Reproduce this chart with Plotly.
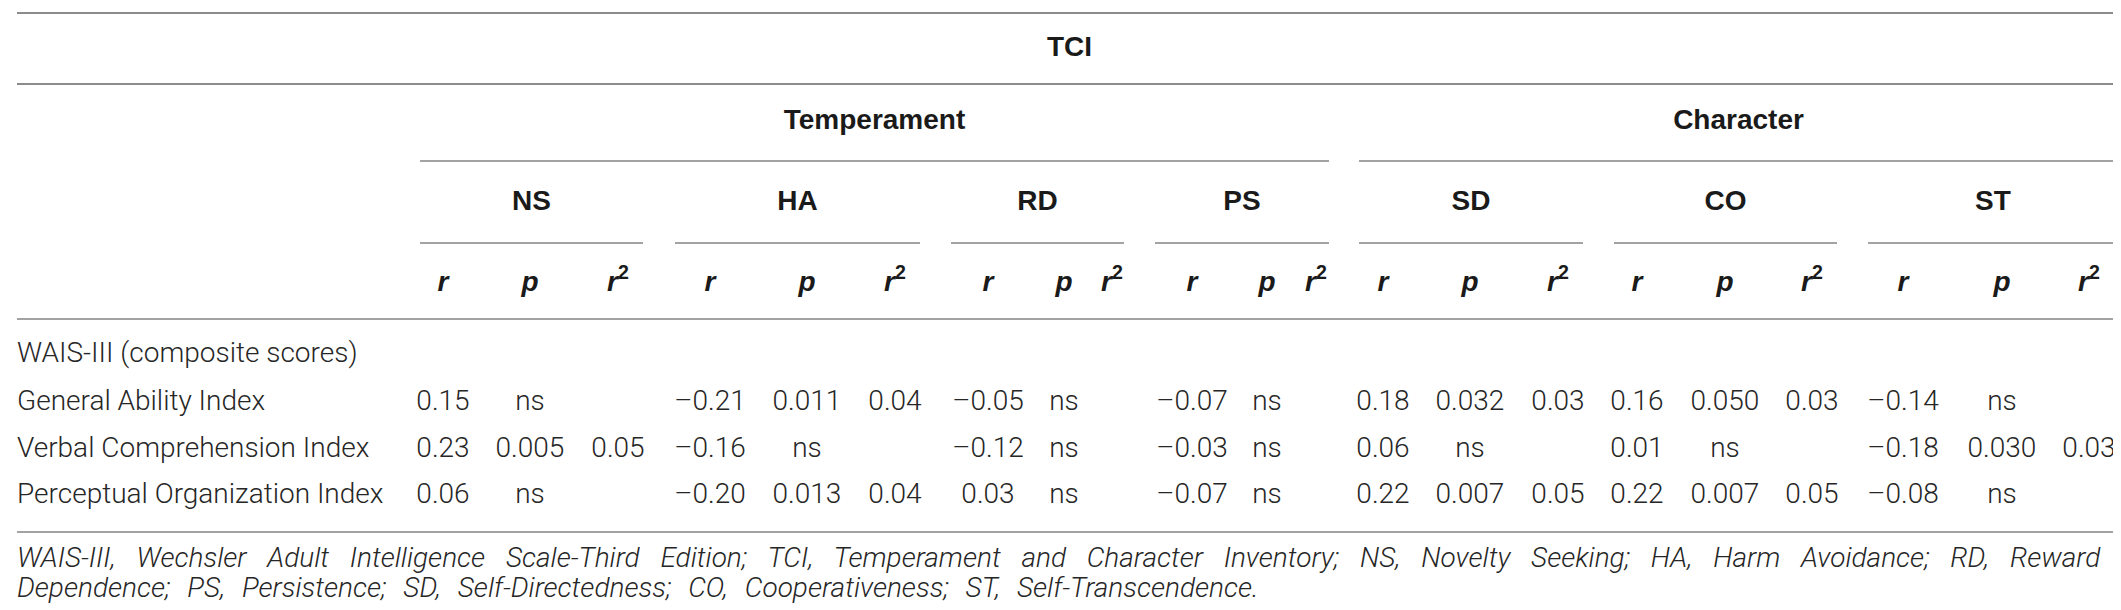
import plotly.graph_objects as go

# table content
scales = ["NS", "HA", "RD", "PS", "SD", "CO", "ST"]
groups = ["Temperament", "Character"]
stats = ["r", "p", "r2"]
row_labels = ["General Ability Index", "Verbal Comprehension Index", "Perceptual Organization Index"]
section_label = "WAIS-III (composite scores)"

r_gai = [0.15, -0.21, -0.05, -0.07, 0.18, 0.16, -0.14]
r_vci = [0.23, -0.16, -0.12, -0.03, 0.06, 0.01, -0.18]
r_poi = [0.06, -0.20, 0.03, -0.07, 0.22, 0.22, -0.08]
p_gai = ["ns", "0.011", "ns", "ns", "0.032", "0.050", "ns"]
p_vci = ["0.005", "ns", "ns", "ns", "ns", "ns", "0.030"]
p_poi = ["ns", "0.013", "ns", "ns", "0.007", "0.007", "ns"]
r2_gai = [None, 0.04, None, None, 0.03, 0.03, None]
r2_vci = [0.05, None, None, None, None, None, 0.03]
r2_poi = [None, 0.04, None, None, 0.05, 0.05, None]

footnote1 = ("WAIS-III, Wechsler Adult Intelligence Scale-Third Edition; TCI, Temperament and "
             "Character Inventory; NS, Novelty Seeking; HA, Harm Avoidance; RD, Reward")
footnote2 = ("Dependence; PS, Persistence; SD, Self-Directedness; CO, Cooperativeness; "
             "ST, Self-Transcendence.")

# layout geometry (pixels)
W, H = 2121, 610
left, right = 9, 2114
col_r = [435, 702, 980, 1184, 1375, 1629, 1895]
col_p = [522, 799, 1056, 1259, 1462, 1717, 1994]
col_r2 = [610, 887, 1104, 1308, 1550, 1804, 2081]
span_x0 = [412, 667, 943, 1147, 1351, 1606, 1860]
span_x1 = [635, 912, 1116, 1321, 1575, 1829, 2110]
group_x0 = [412, 1351]
group_x1 = [1321, 2110]
y_rule = [5, 76, 311, 524]
y_group_rule = 153
y_span_rule = 235
y_tci, y_group, y_scale, y_stat = 41, 114, 195, 276
y_section = 347
y_rows = [395, 442, 488]
y_foot = [552, 582]

body = dict(family="Roboto", size=28, color="#262626", weight=300)
bold = dict(family="Liberation Sans", size=28, color="#1a1a1a", weight="bold")
bold_it = dict(family="Liberation Sans", size=28, color="#1a1a1a", weight="bold", style="italic")
foot_font = dict(family="Roboto", size=28, color="#262626", weight=300, style="italic")
rule_dark = "#8c8c8c"
rule_light = "#a3a3a3"


def fmt(v):
    s = "%.2f" % abs(v)
    return ("\u2013" + s) if v < 0 else s


def cells(xs, vals, y, as_num):
    keep = [(x, v) for x, v in zip(xs, vals) if v is not None]
    return go.Scatter(x=[k[0] for k in keep], y=[y] * len(keep), mode="text",
                      text=[fmt(k[1]) if as_num else k[1] for k in keep],
                      textposition="middle center", textfont=body, hoverinfo="skip")


fig = go.Figure()

rows_r = [r_gai, r_vci, r_poi]
rows_p = [p_gai, p_vci, p_poi]
rows_r2 = [r2_gai, r2_vci, r2_poi]
for i, y in enumerate(y_rows):
    fig.add_trace(cells(col_r, rows_r[i], y, True))
    fig.add_trace(cells(col_p, rows_p[i], y, False))
    fig.add_trace(cells(col_r2, rows_r2[i], y, True))

fig.add_trace(go.Scatter(x=[left] * 4, y=[y_section] + y_rows, mode="text",
                         text=[section_label] + row_labels,
                         textposition="middle right", textfont=body, hoverinfo="skip"))

# header texts
stat_text = {"r": "r", "p": "p",
             "r2": 'r<sup><span style="font-style:normal">2</span></sup>'}
fig.add_trace(go.Scatter(x=[(left + right) / 2], y=[y_tci], mode="text", text=["TCI"],
                         textposition="middle center", textfont=bold, hoverinfo="skip"))
fig.add_trace(go.Scatter(x=[(a + b) / 2 for a, b in zip(group_x0, group_x1)], y=[y_group] * 2,
                         mode="text", text=groups,
                         textposition="middle center", textfont=bold, hoverinfo="skip"))
fig.add_trace(go.Scatter(x=[(a + b) / 2 for a, b in zip(span_x0, span_x1)], y=[y_scale] * 7,
                         mode="text", text=scales,
                         textposition="middle center", textfont=bold, hoverinfo="skip"))
for key, xs in zip(stats, [col_r, col_p, col_r2]):
    fig.add_trace(go.Scatter(x=xs, y=[y_stat] * 7, mode="text", text=[stat_text[key]] * 7,
                             textposition="middle center", textfont=bold_it, hoverinfo="skip"))

# footnote, first line stretched to the table width like justified text
fig.add_trace(go.Scatter(x=[left], y=[y_foot[0]], mode="text",
                         text=['<span style="word-spacing:14px">%s</span>' % footnote1],
                         textposition="middle right", textfont=foot_font, hoverinfo="skip"))
fig.add_trace(go.Scatter(x=[left], y=[y_foot[1]], mode="text",
                         text=['<span style="word-spacing:10px">%s</span>' % footnote2],
                         textposition="middle right", textfont=foot_font, hoverinfo="skip"))

# rules
shapes = []
for i, y in enumerate(y_rule):
    shapes.append(dict(type="line", x0=left, x1=right, y0=y, y1=y,
                       line=dict(color=rule_dark if i < 2 else rule_light, width=2)))
for a, b in zip(group_x0, group_x1):
    shapes.append(dict(type="line", x0=a, x1=b, y0=y_group_rule, y1=y_group_rule,
                       line=dict(color=rule_light, width=2)))
for a, b in zip(span_x0, span_x1):
    shapes.append(dict(type="line", x0=a, x1=b, y0=y_span_rule, y1=y_span_rule,
                       line=dict(color=rule_light, width=2)))

fig.update_layout(
    width=W, height=H,
    margin=dict(l=0, r=0, t=0, b=0),
    paper_bgcolor="white", plot_bgcolor="white",
    showlegend=False,
    shapes=shapes,
    xaxis=dict(range=[0, W], visible=False, fixedrange=True),
    yaxis=dict(range=[H, 0], visible=False, fixedrange=True),
)
fig.write_html("out.html", config={"displayModeBar": False})
